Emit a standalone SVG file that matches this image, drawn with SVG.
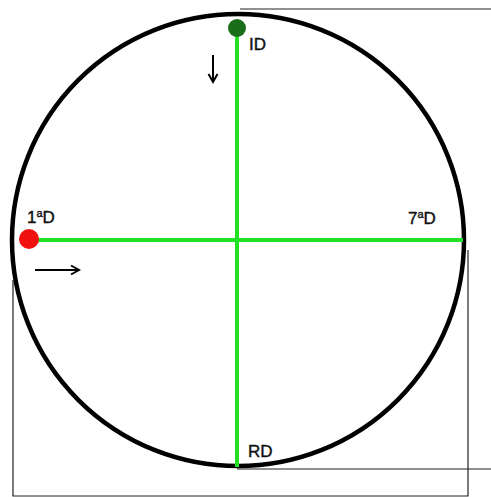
<svg xmlns="http://www.w3.org/2000/svg" width="491" height="497" viewBox="0 0 491 497">
<style>
.t{font-family:"Liberation Sans",Arial,sans-serif;font-size:17px;fill:#111;stroke:#111;stroke-width:0.4;}
.thin{stroke:#222;stroke-width:1.2;fill:none;}
.g{stroke:#22e022;stroke-width:4;}
.ar{stroke:#000;stroke-width:2;fill:none;}
</style>
<defs>
<marker id="ah" markerWidth="12" markerHeight="12" refX="9" refY="6" orient="auto" markerUnits="userSpaceOnUse">
<path d="M1,1.5 L9,6 L1,10.5" fill="none" stroke="#000" stroke-width="2"/>
</marker>
</defs>
<rect width="491" height="497" fill="#fff"/>
<g id="frame">
<path class="thin" d="M240,9 H491"/>
<path class="thin" d="M237,469 H491"/>
<path class="thin" d="M13,280 V496 H468 V250"/>
</g>
<g id="circle">
<ellipse cx="238" cy="240" rx="226" ry="226" fill="none" stroke="#000" stroke-width="4.5"/>
</g>
<g id="connectors">
<line class="g" x1="237" y1="28" x2="237" y2="467"/>
<line class="g" x1="28" y1="240" x2="463" y2="240"/>
<line class="ar" x1="213" y1="55" x2="213" y2="82" marker-end="url(#ah)"/>
<line class="ar" x1="35" y1="270" x2="79" y2="270" marker-end="url(#ah)"/>
</g>
<g id="ID">
<circle cx="237" cy="28" r="9" fill="#1a6e1a"/>
<text class="t" x="249" y="50">ID</text>
</g>
<g id="D1">
<circle cx="29" cy="239" r="10" fill="#f01010"/>
<text class="t" x="27" y="223">1<tspan font-size="11" dy="-6">a</tspan><tspan dy="6">D</tspan></text>
</g>
<g id="D7">
<text class="t" x="408" y="224">7<tspan font-size="11" dy="-6">a</tspan><tspan dy="6">D</tspan></text>
</g>
<g id="RD">
<text class="t" x="248" y="457">RD</text>
</g>
</svg>
